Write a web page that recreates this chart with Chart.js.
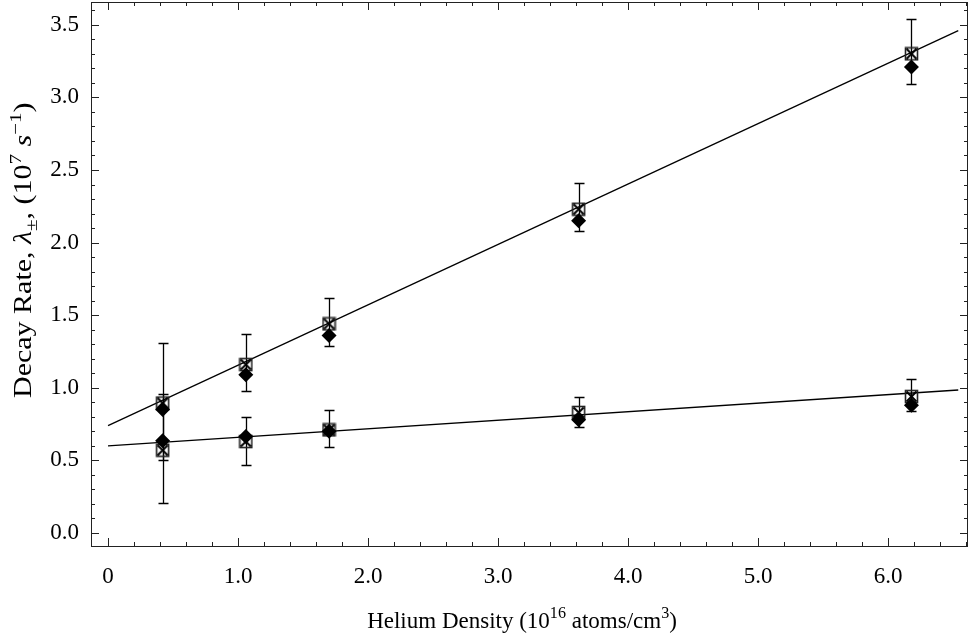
<!DOCTYPE html>
<html>
<head>
<meta charset="utf-8">
<script src="https://cdn.jsdelivr.net/npm/chart.js@4"></script>
<style>
  html, body { margin: 0; padding: 0; background: #fff; }
  #wrap { width: 969px; height: 636px; }
</style>
</head>
<body>
<div id="wrap"><canvas id="decayChart" width="969" height="636"></canvas></div>
<script>
// Helium density of each measurement (10^16 atoms/cm^3)
const densities = [0.42, 1.06, 1.70, 3.62, 6.18];

// Fast component (lambda+): measured values (crossed squares) with error bars, fitted values (diamonds)
const fastMeasured = [0.895, 1.16, 1.44, 2.23, 3.30];
const fastErrLow   = [0.50, 0.98, 1.29, 2.08, 3.09];
const fastErrHigh  = [1.31, 1.37, 1.62, 2.41, 3.54];
const fastFitted   = [0.85, 1.09, 1.36, 2.15, 3.21];

// Slow component (lambda-)
const slowMeasured = [0.57, 0.63, 0.71, 0.83, 0.94];
const slowErrLow   = [0.205, 0.47, 0.59, 0.73, 0.84];
const slowErrHigh  = [0.955, 0.80, 0.85, 0.94, 1.06];
const slowFitted   = [0.635, 0.665, 0.70, 0.78, 0.88];

// Straight-line fits (end points)
const fitX    = [0, 6.54];
const fastFit = [0.74, 3.46];
const slowFit = [0.60, 0.985];

// Axis ticks
const xTicks = [0, 1, 2, 3, 4, 5, 6];
const yTicks = [0, 0.5, 1.0, 1.5, 2.0, 2.5, 3.0, 3.5];

const FONT = '"Liberation Serif", "Times New Roman", serif';

const toPoints = (xs, ys) => xs.map((x, i) => ({ x: x, y: ys[i] }));

// Open square with a cross inside, used for the measured rates
function crossedSquare() {
  const c = document.createElement('canvas');
  c.width = 15; c.height = 15;
  const g = c.getContext('2d');
  g.strokeStyle = '#222';
  g.lineWidth = 1.6;
  g.strokeRect(1.5, 1.5, 12, 12);
  g.strokeStyle = '#000';
  g.lineWidth = 2;
  g.beginPath();
  g.moveTo(2.5, 2.5); g.lineTo(12.5, 12.5);
  g.moveTo(12.5, 2.5); g.lineTo(2.5, 12.5);
  g.stroke();
  return c;
}
const squareMarker = crossedSquare();

// Error bars on the measured points
const errorBars = {
  id: 'errorBars',
  beforeDatasetsDraw(chart) {
    const { ctx, scales: { x, y } } = chart;
    const sets = [[fastErrLow, fastErrHigh], [slowErrLow, slowErrHigh]];
    ctx.save();
    ctx.strokeStyle = '#000';
    ctx.lineWidth = 1.3;
    sets.forEach(([lo, hi]) => {
      densities.forEach((d, i) => {
        const px = Math.round(x.getPixelForValue(d)) + 0.5;
        const yl = Math.round(y.getPixelForValue(lo[i])) + 0.5;
        const yh = Math.round(y.getPixelForValue(hi[i])) + 0.5;
        ctx.beginPath();
        ctx.moveTo(px, yl); ctx.lineTo(px, yh);
        ctx.moveTo(px - 5, yl); ctx.lineTo(px + 5, yl);
        ctx.moveTo(px - 5, yh); ctx.lineTo(px + 5, yh);
        ctx.stroke();
      });
    });
    ctx.restore();
  }
};

// Frame with inward major/minor ticks on all four sides
const frameTicks = {
  id: 'frameTicks',
  afterDraw(chart) {
    const { ctx, chartArea: a, scales: { x, y } } = chart;
    ctx.save();
    ctx.strokeStyle = '#222';
    ctx.lineWidth = 1;
    ctx.strokeRect(Math.round(a.left) + 0.5, Math.round(a.top) + 0.5,
                   Math.round(a.right - a.left) - 1, Math.round(a.bottom - a.top));
    ctx.beginPath();
    for (let k = Math.ceil(x.min / 0.2); k * 0.2 <= x.max; k++) {
      const len = k % 5 === 0 ? 8 : 4;
      const px = Math.round(x.getPixelForValue(k * 0.2)) + 0.5;
      ctx.moveTo(px, a.bottom); ctx.lineTo(px, a.bottom - len);
      ctx.moveTo(px, a.top); ctx.lineTo(px, a.top + len);
    }
    for (let k = Math.ceil(y.min / 0.1); k * 0.1 <= y.max; k++) {
      const len = k % 5 === 0 ? 8 : 4;
      const py = Math.round(y.getPixelForValue(k * 0.1)) + 0.5;
      ctx.moveTo(a.left, py); ctx.lineTo(a.left + len, py);
      ctx.moveTo(a.right, py); ctx.lineTo(a.right - len, py);
    }
    ctx.stroke();
    ctx.restore();
  }
};

// Axis titles with super/subscripts and italics
function richFont(p, size) {
  return (p.italic ? 'italic ' : '') + ((p.sup || p.sub) ? size * 0.7 : size) + 'px ' + FONT;
}
function richWidth(ctx, parts, size) {
  let total = 0;
  parts.forEach(p => { ctx.font = richFont(p, size); total += ctx.measureText(p.t).width; });
  return total;
}
function drawRich(ctx, parts, size, startX) {
  let cx = startX;
  parts.forEach(p => {
    ctx.font = richFont(p, size);
    const dy = p.sup ? -size * 0.42 : (p.sub ? size * 0.25 : 0);
    ctx.fillText(p.t, cx, dy);
    cx += ctx.measureText(p.t).width;
  });
}

const xTitle = [
  { t: 'Helium Density (10' }, { t: '16', sup: true },
  { t: ' atoms/cm' }, { t: '3', sup: true }, { t: ')' }
];
const yTitle = [
  { t: 'Decay Rate, ' }, { t: 'λ', italic: true }, { t: '±', sub: true },
  { t: ', (10' }, { t: '7', sup: true }, { t: ' ' }, { t: 's', italic: true },
  { t: '−1', sup: true }, { t: ')' }
];

const axisTitles = {
  id: 'axisTitles',
  afterDraw(chart) {
    const { ctx } = chart;
    ctx.save();
    ctx.fillStyle = '#000';
    ctx.textBaseline = 'alphabetic';
    ctx.textAlign = 'left';

    ctx.save();
    ctx.translate(522, 628);
    drawRich(ctx, xTitle, 23, -richWidth(ctx, xTitle, 23) / 2);
    ctx.restore();

    // vertical title, starting level with the 1.0 tick and reading upwards
    ctx.save();
    ctx.translate(31, 398);
    ctx.rotate(-Math.PI / 2);
    ctx.scale(1.2, 1);
    drawRich(ctx, yTitle, 25, 0);
    ctx.restore();

    ctx.restore();
  }
};

new Chart(document.getElementById('decayChart'), {
  type: 'scatter',
  data: {
    datasets: [
      {
        type: 'line', label: 'fast fit', data: toPoints(fitX, fastFit),
        borderColor: '#000', borderWidth: 1.3, pointRadius: 0, order: 3
      },
      {
        type: 'line', label: 'slow fit', data: toPoints(fitX, slowFit),
        borderColor: '#000', borderWidth: 1.3, pointRadius: 0, order: 3
      },
      {
        label: 'fast measured', data: toPoints(densities, fastMeasured),
        pointStyle: squareMarker, order: 2
      },
      {
        label: 'slow measured', data: toPoints(densities, slowMeasured),
        pointStyle: squareMarker, order: 2
      },
      {
        label: 'fast fitted', data: toPoints(densities, fastFitted),
        pointStyle: 'rectRot', pointRadius: 7.5, backgroundColor: '#000', borderColor: '#000',
        borderWidth: 0, order: 1
      },
      {
        label: 'slow fitted', data: toPoints(densities, slowFitted),
        pointStyle: 'rectRot', pointRadius: 7.5, backgroundColor: '#000', borderColor: '#000',
        borderWidth: 0, order: 1
      }
    ]
  },
  options: {
    responsive: false,
    animation: false,
    layout: { autoPadding: false, padding: { top: 2, right: 1, left: 0, bottom: 0 } },
    plugins: {
      legend: { display: false },
      tooltip: { enabled: false }
    },
    scales: {
      x: {
        type: 'linear',
        min: -0.131,
        max: 6.615,
        grid: { display: false, drawTicks: false },
        border: { display: false },
        afterBuildTicks: scale => { scale.ticks = xTicks.map(v => ({ value: v })); },
        afterFit: scale => { scale.height = 90; scale.paddingLeft = 0; scale.paddingRight = 0; },
        ticks: {
          color: '#000',
          padding: 17,
          maxRotation: 0,
          font: { family: FONT, size: 23 },
          callback: v => (v === 0 ? '0' : v.toFixed(1))
        }
      },
      y: {
        type: 'linear',
        min: -0.0895,
        max: 3.657,
        grid: { display: false, drawTicks: false },
        border: { display: false },
        afterBuildTicks: scale => { scale.ticks = yTicks.map(v => ({ value: v })); },
        afterFit: scale => { scale.width = 91; scale.paddingTop = 0; scale.paddingBottom = 0; },
        ticks: {
          color: '#000',
          padding: 12,
          font: { family: FONT, size: 23 },
          callback: v => v.toFixed(1)
        }
      }
    }
  },
  plugins: [errorBars, frameTicks, axisTitles]
});
</script>
</body>
</html>
